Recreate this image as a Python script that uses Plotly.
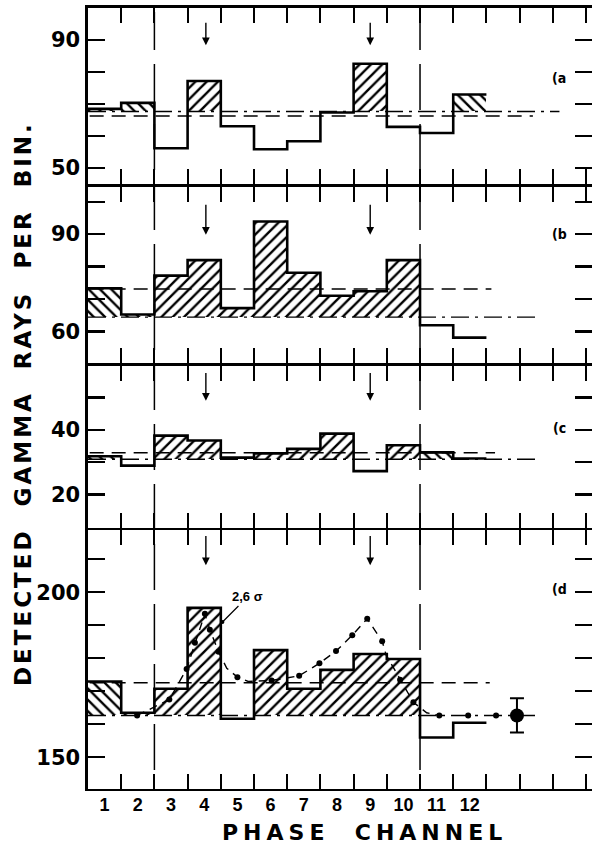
import plotly.graph_objects as go

# ---------------- data ----------------
channels = list(range(1, 13))
tick_labels = [str(c) for c in channels]

counts_a = [68.4, 70.3, 56.1, 77.1, 63.0, 55.8, 58.3, 67.3, 82.5, 62.8, 60.9, 72.9]
counts_b = [73.3, 65.2, 77.2, 82.0, 67.2, 93.9, 78.1, 71.0, 72.4, 82.0, 61.9, 58.1]
counts_c = [31.8, 28.9, 38.2, 36.7, 31.4, 32.7, 34.1, 38.8, 27.2, 35.2, 33.0, 31.1]
counts_d = [173.0, 163.5, 170.8, 195.3, 161.7, 182.5, 170.8, 176.5, 181.3, 179.8, 156.0, 160.5]

# dash-dot level (base of hatching) and dashed level of each panel
base_levels = [67.6, 64.4, 30.9, 162.7]
dashed_levels = [66.2, 73.1, 32.9, 172.6]

# model curve in panel (d)
model_x = [1.98, 2.95, 3.47, 3.72, 4.02, 4.17, 4.43, 4.68, 5.0, 5.33, 6.03, 6.86, 7.47,
           7.97, 8.46, 8.91, 9.36, 9.48, 9.9, 10.3, 10.7, 11.08]
model_y = [162.7, 167.5, 176.8, 184.7, 193.5, 188.7, 182.0, 177.0, 174.3, 173.0, 173.3, 174.7, 178.5,
           182.2, 187.0, 192.0, 185.2, 181.0, 173.5, 166.7, 163.5, 162.7]
dot_x = [1.98, 2.95, 3.47, 3.72, 4.02, 4.17, 4.43, 5.0, 6.03, 6.86, 7.47, 7.97, 8.46, 8.91,
         9.36, 9.9, 10.3, 11.08, 11.95, 12.79]
dot_y = [162.7, 167.5, 176.8, 184.7, 193.5, 188.7, 182.0, 174.3, 173.3, 174.7, 178.5, 182.2,
         187.0, 192.0, 185.2, 173.5, 166.7, 162.7, 162.7, 162.7]
err_x = [13.42]
err_y = [162.7]
err_size = [5.2]

panel_names = ["(a", "(b", "(c", "(d"]
y_ranges = [[44.9, 99.9], [50.2, 104.6], [9.7, 59.8], [140.5, 218.8]]
y_ticks = [[50, 60, 70, 80, 90], [60, 70, 80, 90, 100], [20, 30, 40, 50],
           [150, 160, 170, 180, 190, 200, 210]]
y_ticktext = [["50", "", "", "", "90"], ["60", "", "", "90", ""], ["20", "", "40", ""],
              ["150", "", "", "", "", "200", ""]]
label_levels = [78, 90, 40.5, 201]
arrow_channels = [4.05, 9.0]
arrow_tips = [88.3, 89.8, 49.0, 208.2]
arrow_tails = [95.8, 99.5, 58.0, 217.5]
dashed_ends = [13.9, 12.65, 12.76, 12.6]
dashdot_ends = [14.7, 14.0, 14.0, 14.1]
phase_markers = [2.5, 10.5]

# ---------------- styling / layout ----------------
W, H = 592, 849
LW = 2.6
X_RANGE = [0.5, 15.68]
X_DOMAIN = [88 / W, 1.0]
borders = [6.7, 185.5, 364.5, 529.0, 790.0]   # panel border rows in pixels
domains = []
for i in range(4):
    top = borders[i] + LW / 2
    bot = borders[i + 1] - LW / 2
    domains.append([1 - bot / H, 1 - top / H])
hatch = ["\\", "\\"] + ["/"] * 8 + ["\\", "\\"]
tick_edges = [c + 0.5 for c in range(1, 16)]
edges = [c - 0.5 for c in channels] + [channels[-1] + 0.5]

all_counts = [counts_a, counts_b, counts_c, counts_d]

fig = go.Figure()
layout = dict(width=W, height=H, margin=dict(l=0, r=0, t=0, b=0, autoexpand=False),
              paper_bgcolor="white", plot_bgcolor="white", showlegend=False,
              template="none", hovermode=False)

for i in range(4):
    n = "" if i == 0 else str(i + 1)
    xa, ya = "x" + n, "y" + n
    counts = all_counts[i]
    base = base_levels[i]
    heights = [max(v - base, 0) for v in counts]
    fig.add_trace(go.Bar(x=channels, y=heights, base=base, width=1.0, xaxis=xa, yaxis=ya,
                         marker=dict(color="white", line=dict(width=0),
                                     pattern=dict(shape=hatch, fgcolor="black", bgcolor="white",
                                                  size=8, solidity=0.3)),
                         hoverinfo="skip"))
    fig.add_trace(go.Scatter(x=[X_RANGE[0], dashdot_ends[i]], y=[base, base], mode="lines",
                             xaxis=xa, yaxis=ya,
                             line=dict(color="black", width=1.4, dash="18px,6px,3px,6px")))
    fig.add_trace(go.Scatter(x=[X_RANGE[0] + 0.05, dashed_ends[i]],
                             y=[dashed_levels[i], dashed_levels[i]], mode="lines",
                             xaxis=xa, yaxis=ya,
                             line=dict(color="black", width=1.4, dash="14px,8px")))
    fig.add_trace(go.Scatter(x=edges, y=counts + [counts[-1]], mode="lines", line_shape="hv",
                             xaxis=xa, yaxis=ya, line=dict(color="black", width=2.6)))

    xaxis = dict(domain=X_DOMAIN, range=X_RANGE, anchor=ya, showline=True,
                 linecolor="black", linewidth=LW, showgrid=False, automargin=False,
                 zeroline=False, fixedrange=True, mirror="ticks")
    if i < 3:
        xaxis.update(ticks="inside", tickmode="array", tickvals=tick_edges,
                     ticklen=15, tickwidth=2, tickcolor="black", showticklabels=False)
    else:
        xaxis.update(ticks="", tickmode="array", tickvals=channels,
                     ticktext=tick_labels, ticklabelstandoff=-2,
                     tickfont=dict(family="Liberation Sans", size=18, color="black",
                                   weight="bold"),
                     minor=dict(tickmode="array", tickvals=tick_edges, ticks="inside",
                                ticklen=15, tickwidth=2, tickcolor="black"))
    layout["xaxis" + n] = xaxis
    layout["yaxis" + n] = dict(domain=domains[i], range=y_ranges[i], anchor=xa,
                               showline=True, linecolor="black", linewidth=LW,
                               mirror="ticks", automargin=False, fixedrange=True,
                               ticks="inside", tickmode="array", tickvals=y_ticks[i],
                               ticktext=y_ticktext[i], ticklen=17, tickwidth=2.2,
                               tickcolor="black", showgrid=False, zeroline=False,
                               ticklabelstandoff=1,
                               tickfont=dict(family="DejaVu Sans", size=21, color="black",
                                             weight="bold"))

# panel (d) model curve and dots
fig.add_trace(go.Scatter(x=model_x, y=model_y, mode="lines", xaxis="x4", yaxis="y4",
                         line=dict(color="black", width=1.4, dash="8px,6px")))
fig.add_trace(go.Scatter(x=dot_x, y=dot_y, mode="markers", xaxis="x4", yaxis="y4",
                         marker=dict(color="black", size=6)))
fig.add_trace(go.Scatter(x=err_x, y=err_y, mode="markers", xaxis="x4", yaxis="y4",
                         marker=dict(color="black", size=14),
                         error_y=dict(type="data", array=err_size, color="black",
                                      thickness=2, width=7)))

annotations = []
shapes = []
for i in range(4):
    n = "" if i == 0 else str(i + 1)
    xa, ya = "x" + n, "y" + n
    annotations.append(dict(x=14.7, y=label_levels[i], xref=xa, yref=ya, text=panel_names[i],
                            showarrow=False,
                            font=dict(family="DejaVu Sans Condensed, DejaVu Sans", size=14,
                                      color="black", weight="bold")))
    for ch in arrow_channels:
        annotations.append(dict(x=ch, y=arrow_tips[i], ax=ch, ay=arrow_tails[i], xref=xa,
                                yref=ya, axref=xa, ayref=ya, text="", showarrow=True,
                                arrowhead=2, arrowsize=1.1, arrowwidth=1.4,
                                arrowcolor="black"))

annotations.append(dict(x=4.55, y=191, ax=5.3, ay=198.6, xref="x4", yref="y4", axref="x4",
                        ayref="y4", text="2,6 σ", showarrow=True, arrowhead=6,
                        arrowsize=0.8, arrowwidth=1.2, arrowcolor="black",
                        font=dict(family="Liberation Sans", size=13, color="black",
                                  weight="bold")))

annotations.append(dict(x=23 / W, y=1 - 404 / H, xref="paper", yref="paper",
                        text='<span style="letter-spacing:3px">DETECTED\u00a0 GAMMA\u00a0 RAYS\u00a0 PER\u00a0 BIN.</span>',
                        textangle=-90, showarrow=False, xanchor="center", yanchor="middle",
                        font=dict(family="DejaVu Sans", size=23, color="black",
                                  weight="bold")))
annotations.append(dict(x=364 / W, y=1 - 832 / H, xref="paper", yref="paper",
                        text='<span style="letter-spacing:5px">PHASE\u00a0 CHANNEL</span>',
                        showarrow=False, xanchor="center", yanchor="middle",
                        font=dict(family="DejaVu Sans", size=22, color="black",
                                  weight="bold")))

for xm in phase_markers:
    shapes.append(dict(type="line", xref="x", yref="paper", x0=xm, x1=xm,
                       y0=1 - 770 / H, y1=1 - 12 / H,
                       line=dict(color="black", width=1.5, dash="46px,14px")))

layout["annotations"] = annotations
layout["shapes"] = shapes
layout["bargap"] = 0
fig.update_layout(**layout)
fig.write_html("out.html", config={"displayModeBar": False, "staticPlot": True},
               post_script="document.body.style.margin='0px';")
